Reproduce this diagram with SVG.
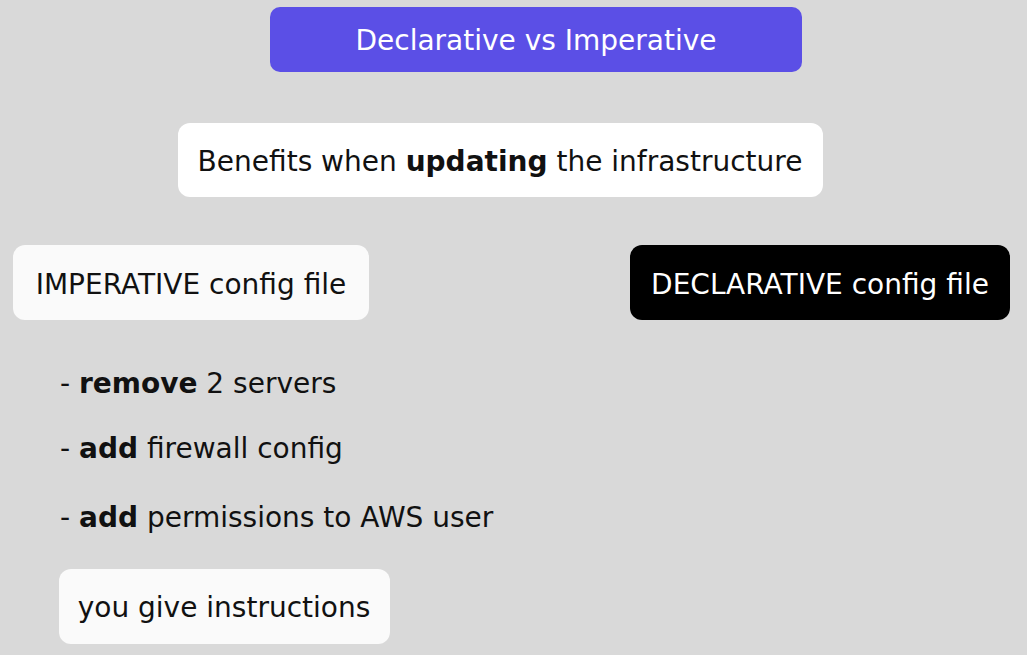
<svg xmlns="http://www.w3.org/2000/svg" width="1027" height="655" viewBox="0 0 1027 655">
<style>
text{font-family:"DejaVu Sans",sans-serif;font-size:28px;fill:#111}
.c{text-anchor:middle}
.w{fill:#fff}
.b{font-weight:bold}
.box{fill:#fafafa}
</style>
<rect width="1027" height="655" fill="#d9d9d9"/>
<g id="title">
<rect x="270" y="7" width="532" height="65" rx="10" fill="#5b4fe6"/>
<text x="536" y="50" class="c w">Declarative vs Imperative</text>
</g>
<g id="benefits">
<rect x="178" y="123" width="645" height="74" rx="12" fill="#fff"/>
<text x="500" y="171" class="c">Benefits when <tspan class="b">updating</tspan> the infrastructure</text>
</g>
<g id="imperative">
<rect x="13" y="245" width="356" height="75" rx="12" class="box"/>
<text x="191" y="294" class="c">IMPERATIVE config file</text>
</g>
<g id="declarative">
<rect x="630" y="245" width="380" height="75" rx="12" fill="#000"/>
<text x="820" y="294" class="c w">DECLARATIVE config file</text>
</g>
<g id="steps">
<text x="60" y="393">- <tspan class="b">remove</tspan> 2 servers</text>
<text x="60" y="458">- <tspan class="b">add</tspan> firewall config</text>
<text x="60" y="527">- <tspan class="b">add</tspan> permissions to AWS user</text>
</g>
<g id="instructions">
<rect x="59" y="569" width="331" height="75" rx="12" class="box"/>
<text x="224" y="617" class="c">you give instructions</text>
</g>
<g id="connectors"/>
</svg>
